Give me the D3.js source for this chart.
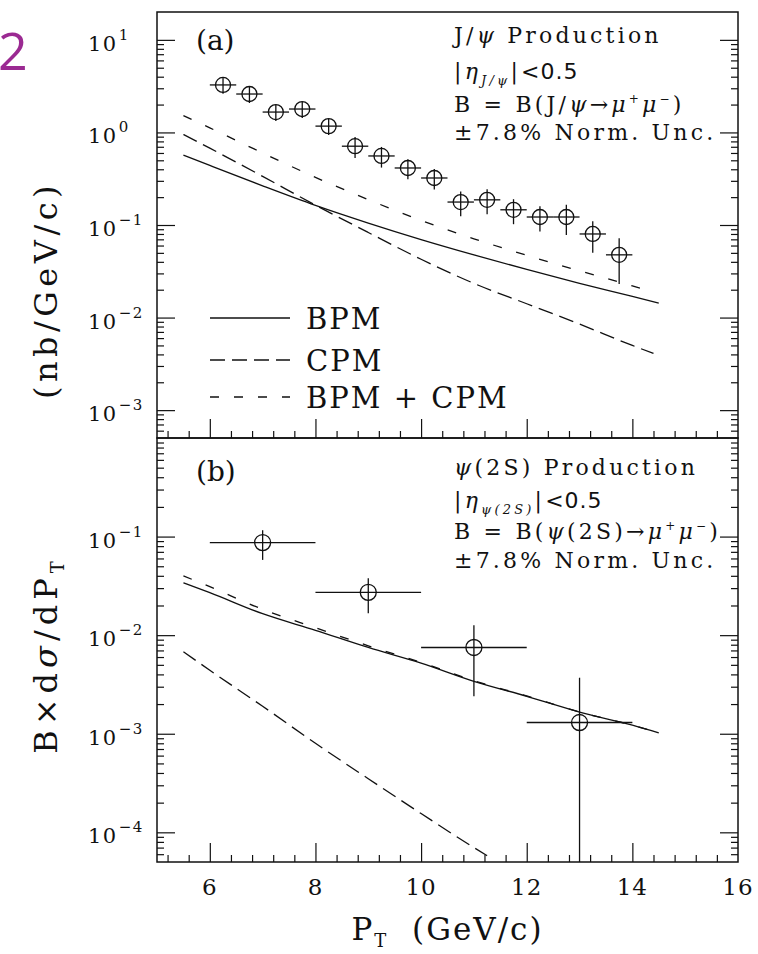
<!DOCTYPE html>
<html>
<head>
<meta charset="utf-8">
<script src="https://cdnjs.cloudflare.com/ajax/libs/d3/7.8.5/d3.min.js"></script>
<style>
  body { margin: 0; background: #fff; }
  svg { display: block; }
  text { font-family: "DejaVu Serif", serif; fill: #111; }
</style>
</head>
<body>
<svg id="chart" width="758" height="954"></svg>
<script>
// ---- data ----
// panel (a): J/psi
var jpsiPt  = [6.25, 6.75, 7.25, 7.75, 8.25, 8.75, 9.25, 9.75, 10.25, 10.75, 11.25, 11.75, 12.25, 12.75, 13.25, 13.75];
var jpsiVal = [3.26, 2.60, 1.66, 1.79, 1.17, 0.71, 0.557, 0.413, 0.322, 0.177, 0.187, 0.146, 0.122, 0.122, 0.080, 0.0476];
var jpsiErr = [0.65, 0.52, 0.33, 0.36, 0.23, 0.18, 0.14, 0.10, 0.08, 0.053, 0.056, 0.044, 0.037, 0.044, 0.030, 0.0245];
var jpsiBinHalf = 0.25;

var bpmPtA = [5.5, 6, 7, 8, 9, 10, 11, 12, 13, 14, 14.5];
var bpmA   = [0.569, 0.44, 0.265, 0.163, 0.105, 0.0697, 0.0476, 0.0331, 0.0234, 0.0169, 0.0143];
var cpmPtA = [5.5, 6, 7, 8, 9, 10, 11, 12, 13, 14, 14.4];
var cpmA   = [0.95, 0.676, 0.335, 0.164, 0.083, 0.0427, 0.0234, 0.0141, 0.0085, 0.0050, 0.0041];
var sumPtA = [5.5, 6, 7, 8, 9, 10, 11, 12, 13, 14, 14.3];
var sumA   = [1.52, 1.12, 0.60, 0.327, 0.188, 0.112, 0.071, 0.047, 0.032, 0.022, 0.0195];

// panel (b): psi(2S)
var psiPt  = [7, 9, 11, 13];
var psiVal = [0.087, 0.0272, 0.0075, 0.0013];
var psiErr = [0.029, 0.0105, 0.0051, 0.0024];
var psiBinHalf = 1;

var bpmPtB = [5.5, 6, 7, 8, 9, 10, 11, 12, 13, 14, 14.5];
var bpmB   = [0.034, 0.027, 0.0165, 0.0112, 0.0075, 0.0052, 0.0034, 0.0024, 0.00166, 0.00122, 0.00102];
var cpmPtB = [5.5, 6, 7, 8, 9, 10, 11, 11.25];
var cpmB   = [0.0068, 0.0044, 0.0019, 0.0008, 0.00035, 0.000155, 0.00007, 0.000058];
var sumPtB = [5.5, 6, 7, 8, 9, 10, 11, 12, 13, 14, 14.5];
var sumB   = [0.040, 0.031, 0.0183, 0.0119, 0.0078, 0.0053, 0.00345, 0.00242, 0.00166, 0.00122, 0.00102];

// tick labels
var xTickLabels = [6, 8, 10, 12, 14, 16];
var yExpA = [1, 0, -1, -2, -3];
var yExpB = [-1, -2, -3, -4];

var legendNames = ["BPM", "CPM", "BPM + CPM"];

// ---- layout ----  (window.top is reserved, so no plain "top" here)
var pL = 157, pR = 738, pTop = 12, pMid = 438, pBot = 862;
var ink = "#111";
var dashCPM = "15,7", dashSUM = "9,15";

var svg = d3.select("#chart");

var x = d3.scaleLinear().domain([5, 16]).range([pL, pR]);
var yA = d3.scaleLog().domain([5e-4, 20]).range([pMid, pTop]);
var yB = d3.scaleLog().domain([5e-5, 1]).range([pBot, pMid]);

function logMinors(y) {
  var d = y.domain(), out = [];
  var lo = Math.floor(Math.log10(d[0])), hi = Math.ceil(Math.log10(d[1]));
  for (var e = lo; e <= hi; e++) {
    for (var k = 2; k <= 9; k++) {
      var v = k * Math.pow(10, e);
      if (v > d[0] && v < d[1]) out.push(v);
    }
  }
  return out;
}

function noDomain(g) {
  g.select(".domain").remove();
  g.selectAll(".tick line").attr("stroke", ink).attr("stroke-width", 1.2);
}

function panel(y, yBottom, yTop, exps) {
  var majors = exps.map(function(e) { return Math.pow(10, e); });
  var minors = logMinors(y);

  // y ticks, both sides, pointing in
  svg.append("g").attr("transform", "translate(" + pL + ",0)")
    .call(d3.axisLeft(y).tickValues(majors).tickSize(-18).tickFormat(""))
    .call(noDomain);
  svg.append("g").attr("transform", "translate(" + pL + ",0)")
    .call(d3.axisLeft(y).tickValues(minors).tickSize(-7).tickFormat(""))
    .call(noDomain);
  svg.append("g").attr("transform", "translate(" + pR + ",0)")
    .call(d3.axisRight(y).tickValues(majors).tickSize(-18).tickFormat(""))
    .call(noDomain);
  svg.append("g").attr("transform", "translate(" + pR + ",0)")
    .call(d3.axisRight(y).tickValues(minors).tickSize(-7).tickFormat(""))
    .call(noDomain);

  // x ticks on the bottom edge of the panel
  var xMinor = d3.range(5.2, 16, 0.4).filter(function(v) {
    return Math.abs(v / 2 - Math.round(v / 2)) > 0.01;
  });
  svg.append("g").attr("transform", "translate(0," + yBottom + ")")
    .call(d3.axisBottom(x).tickValues([6, 8, 10, 12, 14]).tickSize(-19).tickFormat(""))
    .call(noDomain);
  svg.append("g").attr("transform", "translate(0," + yBottom + ")")
    .call(d3.axisBottom(x).tickValues(xMinor).tickSize(-7).tickFormat(""))
    .call(noDomain);

  // y labels 10^n
  var lab = svg.append("g").selectAll("text").data(exps).enter().append("text")
    .attr("x", 88)
    .attr("y", function(e) { return y(Math.pow(10, e)) + 11; })
    .style("font-size", "21px")
    .style("letter-spacing", "1.5px");
  lab.append("tspan").text("10");
  lab.append("tspan")
    .attr("dy", -11)
    .attr("dx", 1)
    .style("font-size", "15px")
    .text(function(e) { return e < 0 ? "\u2212" + (-e) : "" + e; });

  // frame
  svg.append("rect")
    .attr("x", pL).attr("y", yTop)
    .attr("width", pR - pL).attr("height", yBottom - yTop)
    .attr("fill", "none").attr("stroke", ink).attr("stroke-width", 1.5);
}

function curve(y, pts, vals, dash) {
  var line = d3.line()
    .x(function(d) { return x(d[0]); })
    .y(function(d) { return y(d[1]); })
    .curve(d3.curveMonotoneX);
  svg.append("path")
    .datum(pts.map(function(p, i) { return [p, vals[i]]; }))
    .attr("d", line)
    .attr("fill", "none")
    .attr("stroke", ink)
    .attr("stroke-width", 1.3)
    .attr("stroke-dasharray", dash || null);
}

function points(y, pts, vals, errs, half, r) {
  var yMin = y.domain()[0];
  var g = svg.append("g").attr("stroke", ink).attr("stroke-width", 1.3).attr("fill", "none");
  pts.forEach(function(p, i) {
    var v = vals[i], e = errs[i];
    var lo = v - e > yMin ? y(v - e) : y.range()[0];
    g.append("line").attr("x1", x(p)).attr("x2", x(p)).attr("y1", y(v + e)).attr("y2", lo);
    g.append("line").attr("x1", x(p - half)).attr("x2", x(p + half)).attr("y1", y(v)).attr("y2", y(v));
    g.append("circle").attr("cx", x(p)).attr("cy", y(v)).attr("r", r);
  });
}

panel(yA, pMid, pTop, yExpA);
panel(yB, pBot, pMid, yExpB);

curve(yA, bpmPtA, bpmA, null);
curve(yA, cpmPtA, cpmA, dashCPM);
curve(yA, sumPtA, sumA, dashSUM);
points(yA, jpsiPt, jpsiVal, jpsiErr, jpsiBinHalf, 7.5);

curve(yB, bpmPtB, bpmB, null);
curve(yB, cpmPtB, cpmB, dashCPM);
curve(yB, sumPtB, sumB, dashSUM);
points(yB, psiPt, psiVal, psiErr, psiBinHalf, 8);

// x tick labels
svg.append("g").selectAll("text").data(xTickLabels).enter().append("text")
  .attr("x", function(d) { return x(d); })
  .attr("y", 895)
  .attr("text-anchor", "middle")
  .style("font-size", "23px")
  .style("letter-spacing", "1px")
  .text(function(d) { return d; });

// axis titles
var xt = svg.append("text")
  .attr("x", (pL + pR) / 2)
  .attr("y", 940)
  .attr("text-anchor", "middle")
  .style("font-size", "31px")
  .style("letter-spacing", "2px")
  .attr("xml:space", "preserve");
xt.append("tspan").text("P");
xt.append("tspan").attr("dy", 7).style("font-size", "18px").text("T");
xt.append("tspan").attr("dy", -7).text("  (GeV/c)");

var yt1 = svg.append("text")
  .attr("transform", "translate(57,655) rotate(-90)")
  .attr("text-anchor", "middle")
  .style("font-size", "32px")
  .style("letter-spacing", "5px");
yt1.append("tspan").text("B\u00d7d");
yt1.append("tspan").style("font-style", "italic").text("\u03c3");
yt1.append("tspan").text("/dP");
yt1.append("tspan").attr("dy", 7).style("font-size", "18px").text("T");

svg.append("text")
  .attr("transform", "translate(57,290) rotate(-90)")
  .attr("text-anchor", "middle")
  .style("font-size", "32px")
  .style("letter-spacing", "4.5px")
  .text("(nb/GeV/c)");

// panel tags
svg.append("text").attr("x", 196).attr("y", 50).style("font-size", "28px").text("(a)");
svg.append("text").attr("x", 196).attr("y", 481).style("font-size", "28px").text("(b)");

// annotation blocks
function note(x0, lines) {
  lines.forEach(function(l) {
    var t = svg.append("text").attr("x", x0).attr("y", l.y)
      .style("font-size", "22px").style("letter-spacing", "3.2px")
      .attr("xml:space", "preserve");
    l.parts.forEach(function(p) {
      var s = t.append("tspan").text(p.t);
      if (p.dy) s.attr("dy", p.dy);
      if (p.size) s.style("font-size", p.size + "px");
      if (p.it) s.style("font-style", "italic");
      if (p.sans) s.style("font-family", "'DejaVu Sans', sans-serif").style("letter-spacing", "1px");
    });
  });
}

var psi = "\u03c8", eta = "\u03b7", mu = "\u03bc";

note(454, [
  { y: 43, parts: [{ t: "J/" }, { t: psi, it: true }, { t: " Production" }] },
  { y: 79, parts: [{ t: "|" }, { t: eta, it: true }, { t: "J/" + psi, dy: 6, size: 13, it: true }, { t: "|", dy: -6 }, { t: "<0.5", sans: true }] },
  { y: 112, parts: [{ t: "B = B(J/" }, { t: psi, it: true }, { t: "\u2192" }, { t: mu, it: true }, { t: "+", dy: -9, size: 12 }, { t: mu, dy: 9, it: true }, { t: "\u2212", dy: -9, size: 12 }, { t: ")", dy: 9 }] },
  { y: 140, parts: [{ t: "\u00b17.8% Norm. Unc." }] }
]);

note(454, [
  { y: 475, parts: [{ t: psi, it: true }, { t: "(2S) Production" }] },
  { y: 508, parts: [{ t: "|" }, { t: eta, it: true }, { t: psi + "(2S)", dy: 6, size: 13, it: true }, { t: "|", dy: -6 }, { t: "<0.5", sans: true }] },
  { y: 539, parts: [{ t: "B = B(" }, { t: psi, it: true }, { t: "(2S)\u2192" }, { t: mu, it: true }, { t: "+", dy: -9, size: 12 }, { t: mu, dy: 9, it: true }, { t: "\u2212", dy: -9, size: 12 }, { t: ")", dy: 9 }] },
  { y: 568, parts: [{ t: "\u00b17.8% Norm. Unc." }] }
]);

// legend
var legY = [318, 360, 397];
var legDash = [null, dashCPM, dashSUM];
legendNames.forEach(function(name, i) {
  svg.append("line")
    .attr("x1", 210).attr("x2", 290)
    .attr("y1", legY[i]).attr("y2", legY[i])
    .attr("stroke", ink).attr("stroke-width", 1.3)
    .attr("stroke-dasharray", legDash[i]);
  svg.append("text")
    .attr("x", 306).attr("y", legY[i] + 11)
    .style("font-size", "29px")
    .style("letter-spacing", "2px")
    .attr("xml:space", "preserve")
    .text(name);
});

// page number fragment at the top left (cut by the page edge in the scan)
svg.append("text")
  .attr("x", -2).attr("y", 70)
  .style("font-family", "'Open Sans', sans-serif")
  .style("font-size", "52px")
  .style("fill", "#9b2a92")
  .text("2");
</script>
</body>
</html>
